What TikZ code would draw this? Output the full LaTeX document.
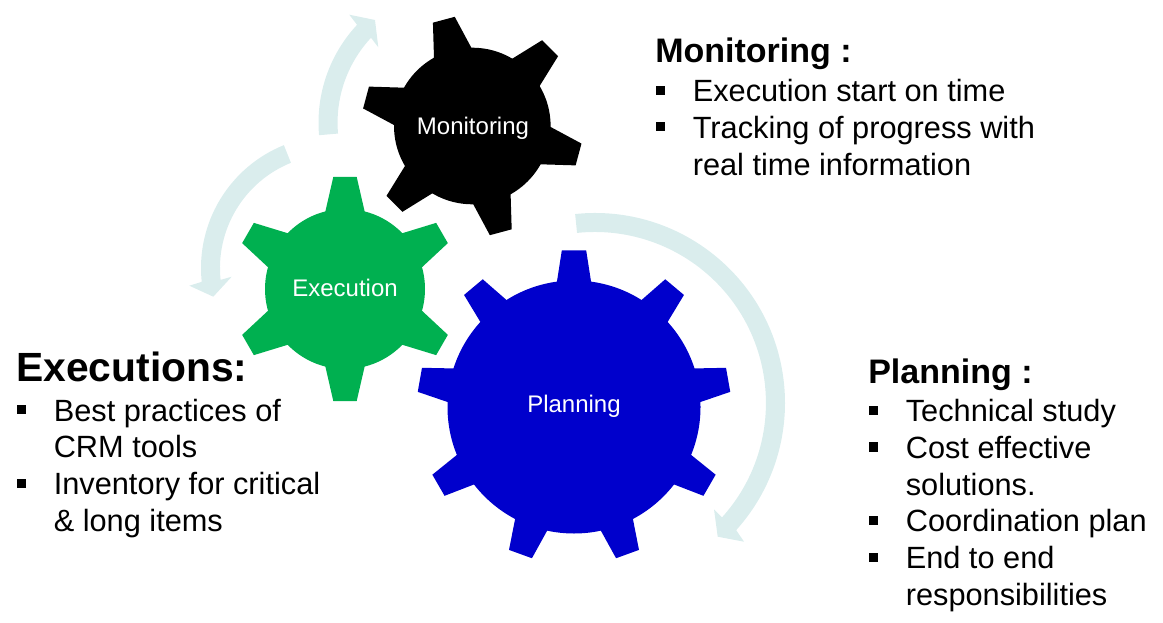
\documentclass[tikz,border=0pt]{standalone}
\usepackage{fontspec}
\setmainfont{Liberation Sans}
\usetikzlibrary{positioning}
\definecolor{bandcolor}{HTML}{DAEDED}
\definecolor{execgreen}{HTML}{00B050}
\definecolor{planblue}{HTML}{0000CC}
\tikzset{
  band/.style={fill=bandcolor},
  gearlabel/.style={text=white,font=\fontsize{18pt}{21pt}\selectfont,inner sep=0pt},
  headtext/.style={font=\bfseries\fontsize{25.5pt}{30pt}\selectfont,inner sep=0pt,anchor=north west},
  listtext/.style={font=\fontsize{23.05pt}{27.6pt}\selectfont,inner sep=0pt,align=left,anchor=north west}
}
% center x, center y, root radius, tip radius, base half width, tip half width, teeth angles, colour
\newcommand{\gearwheel}[8]{
  \begin{scope}[shift={(#1,#2)}]
    \fill[#8] (0,0) circle (#3);
    \foreach \a in {#7}
      \fill[#8,rotate=\a] (#3-4,-#5) -- (#4,-#6) -- (#4,#6) -- (#3-4,#5) -- cycle;
  \end{scope}
}
\newcommand{\bul}{\makebox[28.9pt][l]{\hspace{1.5pt}\raisebox{5.1pt}{\rule{6.8pt}{6.8pt}}}}
\begin{document}
\begin{tikzpicture}[x=0.75pt,y=0.75pt]
  \useasboundingbox (0,0) rectangle (1163,622);
  % circular arrows
  \fill[band] (595,219) ++(96:190) arc[start angle=96,end angle=-42,radius=190]
    -- (744,80.3) -- (717.7,85.3) -- (714,112.7) -- (722,104.6)
    arc[start angle=-42,end angle=96,radius=171] -- cycle;
  \fill[band] (333.5,354) ++(112:132.5) arc[start angle=112,end angle=186,radius=132.5]
    -- (189.3,336.3) -- (213.3,325.3) -- (231.7,345.3) -- (220.6,342.1)
    arc[start angle=186,end angle=112,radius=113.5] -- cycle;
  \fill[band] (462,499.3) ++(185:143.5) arc[start angle=185,end angle=137,radius=143.5]
    -- (349.3,607.3) -- (375,602) -- (378.3,574.7) -- (371,584.2)
    arc[start angle=137,end angle=185,radius=124.5] -- cycle;
  % gears
  \gearwheel{574}{215}{126.5}{156.5}{17.5}{12.2}{90,50,10,-30,-70,-110,-150,170,130}{planblue}
  \gearwheel{472.3}{496}{78.3}{110}{19.7}{11.3}{45,105,165,225,285,345}{black}
  \gearwheel{345}{333}{80}{112}{20}{11.7}{30,90,150,210,270,330}{execgreen}
  \node[gearlabel] (planlabel) at (574,216) {Planning};
  \node[gearlabel] (monlabel) at (473,494) {Monitoring};
  \node[gearlabel] (execlabel) at (345,334) {Execution};
  % text blocks
  \node[headtext] (monhead) at (655,584.5) {Monitoring :};
  \node[listtext,below=6.75pt of monhead.south west,anchor=north west,xshift=-0.75pt] (monlist)
    {\bul Execution start on time\\ \bul Tracking of progress with\\ \hspace*{28.9pt}real time information};
  \node[headtext] (planhead) at (868,263) {Planning :};
  \node[listtext,below=5.7pt of planhead.south west,anchor=north west,xshift=-0.75pt] (planlist)
    {\bul Technical study\\ \bul Cost effective\\ \hspace*{28.9pt}solutions.\\ \bul Coordination plan\\ \bul End to end\\ \hspace*{28.9pt}responsibilities};
  \node[headtext,font=\bfseries\fontsize{30.6pt}{36pt}\selectfont] (exechead) at (16,270) {Executions:};
  \node[listtext,below=12pt of exechead.south west,anchor=north west,xshift=-0.75pt] (execlist)
    {\bul Best practices of\\ \hspace*{28.9pt}CRM tools\\ \bul Inventory for critical\\ \hspace*{28.9pt}\& long items};
\end{tikzpicture}
\end{document}
